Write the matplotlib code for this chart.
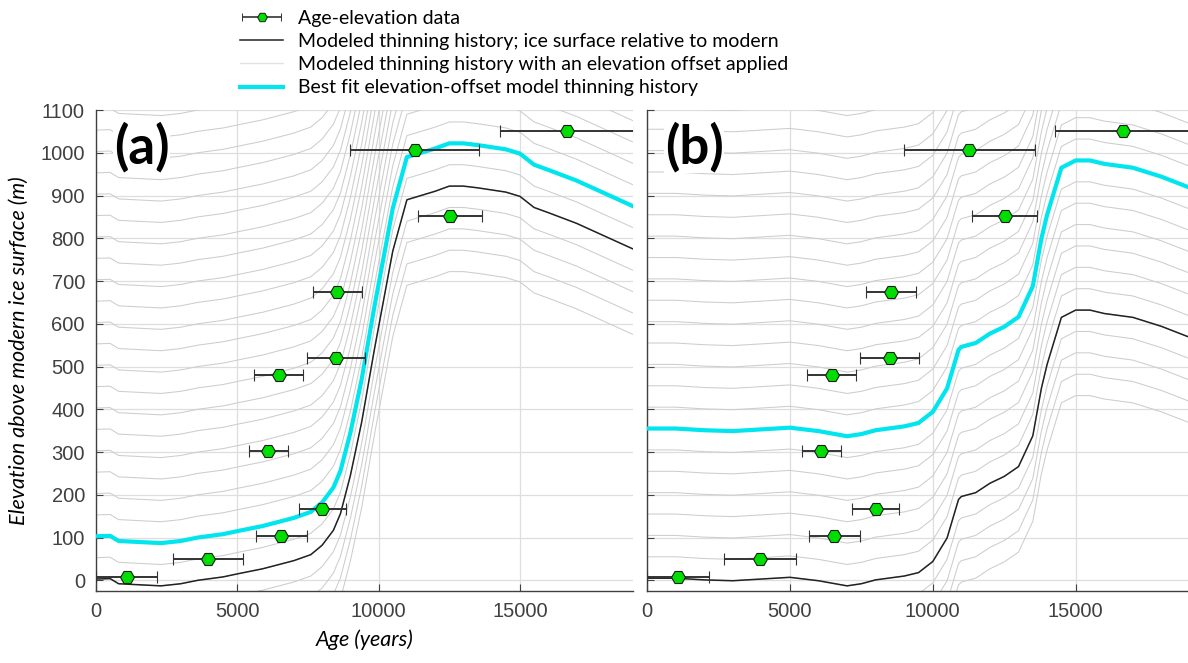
import numpy as np
import matplotlib
matplotlib.use('Agg')
from matplotlib import pyplot as plt
from matplotlib.legend_handler import HandlerErrorbar

# age-elevation samples (same in both panels)
sample_age = [1080, 3960, 6560, 8000, 6100, 6460, 8490, 8540, 12520, 11280, 16660]
sample_elev = [7, 51, 104, 167, 302, 481, 521, 675, 852, 1006, 1052]
sample_err = [1080, 1250, 900, 830, 690, 860, 1030, 860, 1140, 2280, 2380]

# panel (a): modeled ice surface relative to modern
age_a = [0, 500, 800, 2000, 2300, 3000, 3600, 4500, 5000, 5900, 7000, 7600, 8000, 8400, 8650,
         9000, 9400, 9850, 10500, 11000, 12000, 12500, 13000, 13500, 14500, 15000, 15500, 16000,
         17000, 18000, 19000]
elev_a = [3, 4, -8, -12, -13, -8, 0, 8, 15, 27, 46, 60, 82, 117, 156,
          245, 370, 540, 770, 890, 910, 922, 922, 918, 908, 898, 872, 860,
          835, 805, 775]

# panel (b)
age_b = [0, 1000, 2000, 3000, 4000, 5000, 6000, 7000, 7500, 8000, 9000, 9500, 10000, 10500,
         10900, 11000, 11500, 12000, 12500, 13000, 13500, 13800, 14000, 14500, 15000, 15500,
         16000, 17000, 18000, 19000]
elev_b = [5, 5, 1, -1, 3, 7, -1, -13, -8, 1, 10, 18, 44, 99,
          189, 196, 205, 227, 243, 266, 338, 449, 505, 615, 632, 632,
          624, 615, 594, 568]

# elevation offsets of the gray model family and the best fit
offsets = list(range(-200, 1101, 50))
best_offset_a = 100
best_offset_b = 350

xticks = [0, 5000, 10000, 15000]
yticks = list(range(0, 1101, 100))

GRAY = '#cdcdcd'
GRID = '#dedede'
AXC = '#404040'
CYAN = '#00e5ee'
GREEN = '#00dd00'

fig = plt.figure(figsize=(11.88, 6.63), dpi=100)
ax_a = fig.add_axes([96/1188, 72/663, 537/1188, 481/663])
ax_b = fig.add_axes([647/1188, 72/663, 543/1188, 481/663])


def draw_panel(ax, age, elev, best_offset, label):
    age = np.array(age)
    elev = np.array(elev)
    for off in offsets:
        ax.plot(age, elev + off, color=GRAY, lw=0.75, zorder=2)
    ax.plot(age, elev, color='#222222', lw=1.1, zorder=3)
    ax.plot(age, elev + best_offset, color=CYAN, lw=3, zorder=4)
    ax.errorbar(sample_age, sample_elev, xerr=sample_err, fmt='H', ms=10,
                mfc=GREEN, mec='#1a1a1a', mew=0.8, ecolor='#333333', elinewidth=1.4,
                capsize=4.3, capthick=1.4, zorder=5)

    ax.set_xlim(0, 19000)
    ax.set_ylim(-25, 1100)
    ax.set_xticks(xticks)
    ax.set_yticks(yticks)
    ax.grid(True, color=GRID, lw=0.9, zorder=0)
    ax.set_axisbelow(True)
    for s in ['top', 'right']:
        ax.spines[s].set_visible(False)
    for s in ['left', 'bottom']:
        ax.spines[s].set_color(AXC)
        ax.spines[s].set_linewidth(1.0)
    ax.tick_params(direction='in', length=5, color=AXC, labelcolor=AXC,
                   labelsize=14.5, pad=8)
    for t in ax.get_xticklabels() + ax.get_yticklabels():
        t.set_family('Liberation Sans')
    ax.text(0.033, 0.975, label, transform=ax.transAxes, ha='left', va='top',
            fontsize=38, fontweight='bold', family='Lato', zorder=6,
            bbox=dict(facecolor='white', edgecolor='none', pad=0.5))


draw_panel(ax_a, age_a, elev_a, best_offset_a, '(a)')
draw_panel(ax_b, age_b, elev_b, best_offset_b, '(b)')
ax_b.set_yticklabels([])

ax_a.set_ylabel('Elevation above modern ice surface (m)', fontsize=15.5, style='italic',
                family='Lato', labelpad=8)
ax_a.set_xlabel('Age (years)', fontsize=15.5, style='italic', family='Lato', labelpad=6)

# legend proxies (nothing drawn on the axes)
h_data = ax_a.errorbar([np.nan], [np.nan], xerr=[1], fmt='H', ms=7, mfc=GREEN,
                       mec='#1a1a1a', mew=0.7, ecolor='#333333', elinewidth=1.2,
                       capsize=3, capthick=1.2)
h_black, = ax_a.plot([], [], color='#222222', lw=1.1)
h_gray, = ax_a.plot([], [], color='#e2e2e2', lw=1.0)
h_cyan, = ax_a.plot([], [], color=CYAN, lw=3)
fig.legend([h_data, h_black, h_gray, h_cyan],
           ['Age-elevation data',
            'Modeled thinning history; ice surface relative to modern',
            'Modeled thinning history with an elevation offset applied',
            'Best fit elevation-offset model thinning history'],
           loc='upper left', bbox_to_anchor=(230/1188, 1.0), frameon=False,
           prop={'family': 'Lato', 'size': 14}, handlelength=2.25,
           handletextpad=0.75, labelspacing=0.32, borderaxespad=0.1,
           handler_map={h_data: HandlerErrorbar(xerr_size=1.0)})

plt.savefig('out.png', dpi=100)
